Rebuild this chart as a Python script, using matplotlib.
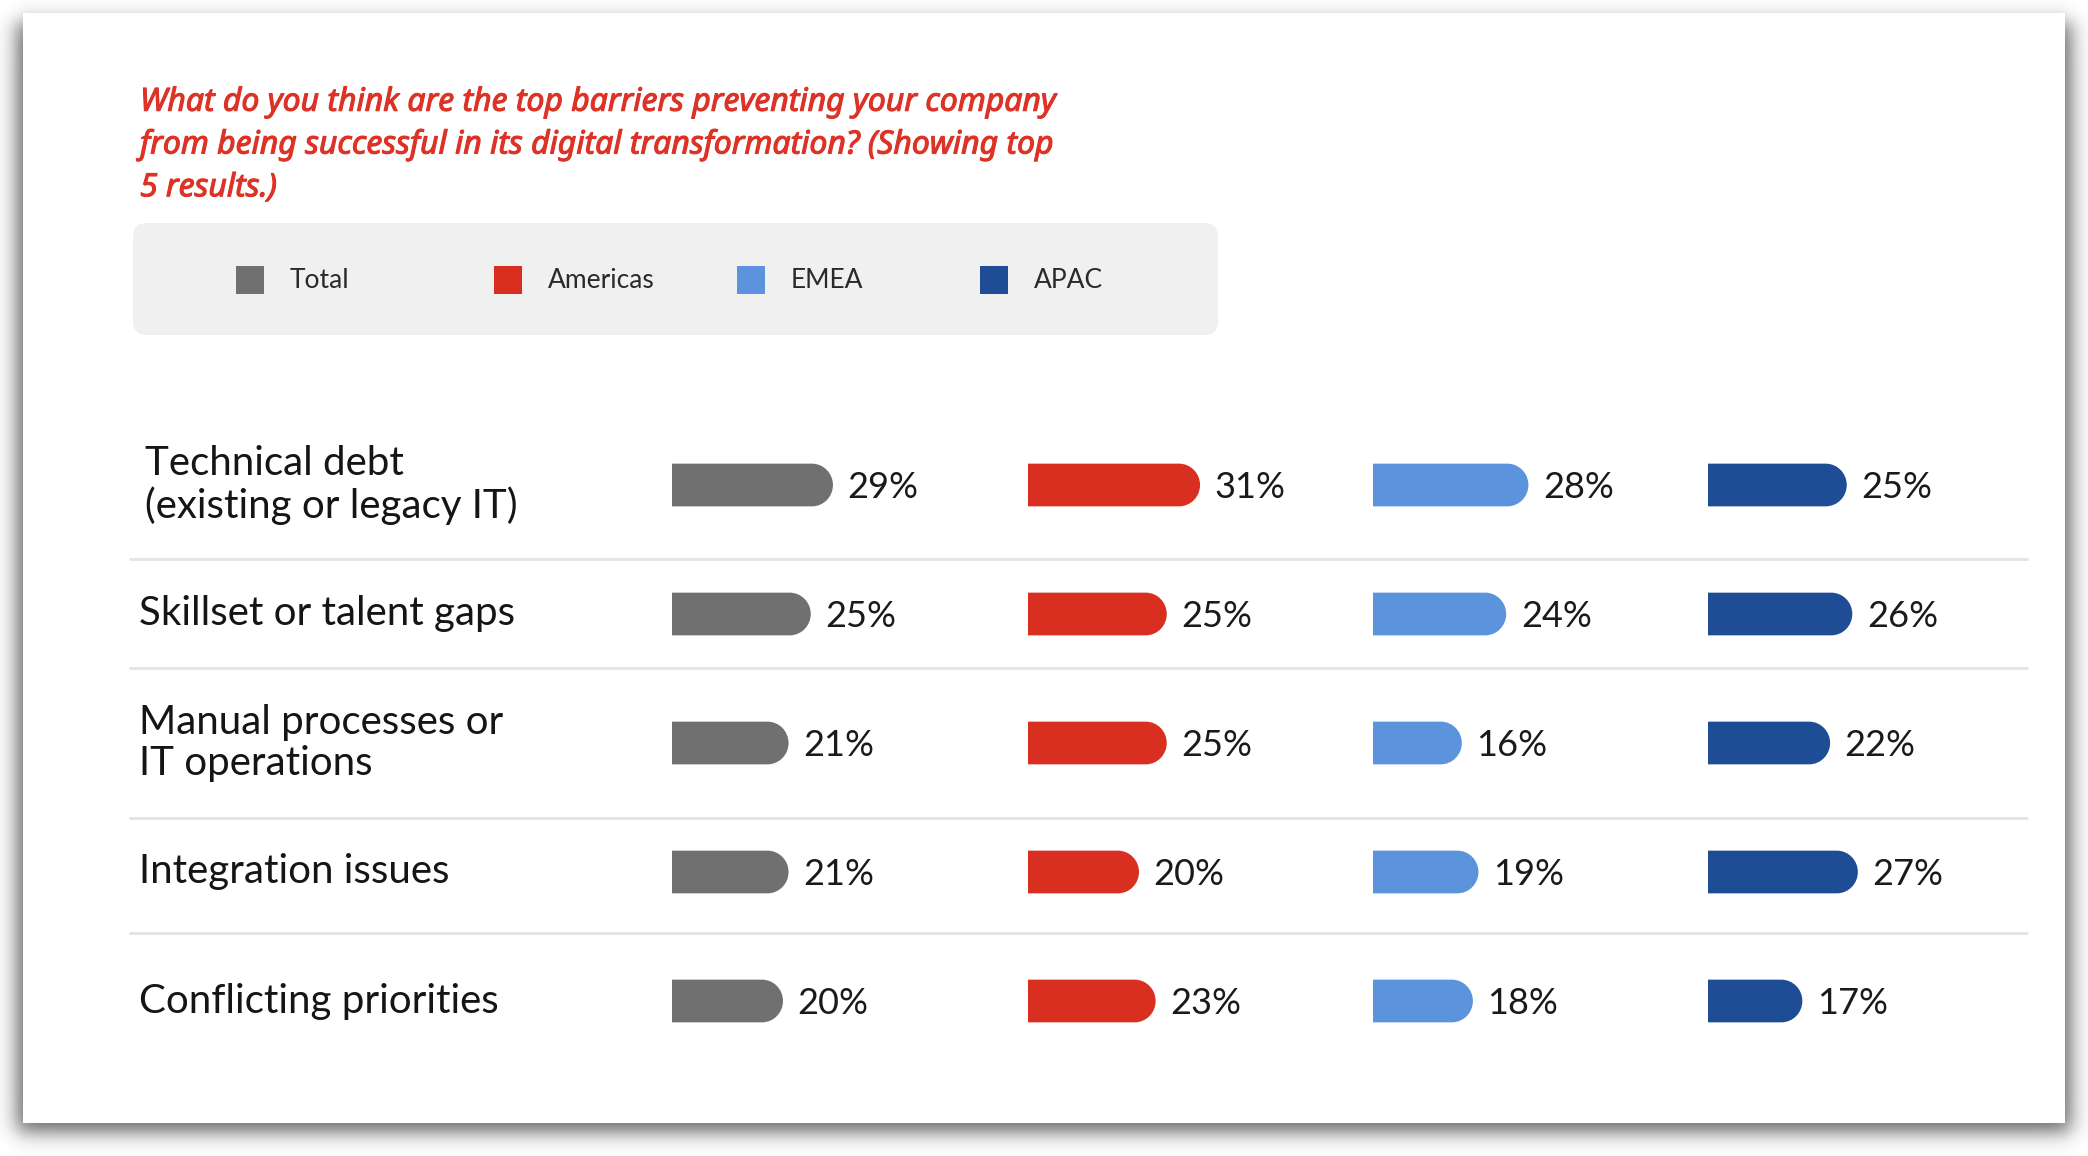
import numpy as np
import matplotlib.pyplot as plt
import matplotlib.patheffects as pe
from matplotlib.patches import Rectangle, FancyBboxPatch, PathPatch
from matplotlib.path import Path

plt.rcParams['font.family'] = ['Lato', 'DejaVu Sans']

# Données
categories = [
    "Technical debt\n(existing or legacy IT)",
    "Skillset or talent gaps",
    "Manual processes or\nIT operations",
    "Integration issues",
    "Conflicting priorities",
]
regions = ["Total", "Americas", "EMEA", "APAC"]
total = [29, 25, 21, 21, 20]
americas = [31, 25, 25, 20, 23]
emea = [28, 24, 16, 19, 18]
apac = [25, 26, 22, 27, 17]
colors = ["#707070", "#d92f21", "#5b93dd", "#1f4d95"]

title = ("What do you think are the top barriers preventing your company\n"
         "from being successful in its digital transformation? (Showing top\n"
         "5 results.)")

W, H = 2088, 1156
fig = plt.figure(figsize=(W / 100, H / 100), dpi=100)
fig.patch.set_facecolor("white")

# fond (coordonnées en pixels)
bg = fig.add_axes([0, 0, 1, 1])
bg.axis("off")

# ombre portée de la carte
xx = np.arange(W) + 0.5
yy = np.arange(H) + 0.5
s = 6.0
fx = 1 / (1 + np.exp(-(xx - 17) / s)) * 1 / (1 + np.exp((xx - 2071) / s))
fy = 1 / (1 + np.exp(-(yy - 22) / s)) * 1 / (1 + np.exp((yy - 1132) / s))
alpha = 0.6 * np.outer(fy, fx)
shadow = np.zeros((H, W, 4))
shadow[..., 3] = alpha
bg.imshow(shadow, extent=(0, W, H, 0), zorder=0, interpolation="bilinear")
bg.set_xlim(0, W)
bg.set_ylim(H, 0)

bg.add_patch(Rectangle((23, 13), 2042, 1110, facecolor="white", edgecolor="none", zorder=1))

# titre
title_red = "#dd3327"
bg.text(140, 145, title, color=title_red, fontsize=23, style="italic",
        family=["Noto Sans", "DejaVu Sans"],
        va="center", ha="left", linespacing=1.39, zorder=3,
        path_effects=[pe.withStroke(linewidth=0.8, foreground=title_red)])

# légende
bg.add_patch(FancyBboxPatch((133, 223), 1085, 112, boxstyle="round,pad=0,rounding_size=14",
                            facecolor="#f0f0f0", edgecolor="none", zorder=2))
leg_x = [250, 508, 751, 994]
for x, name, c in zip(leg_x, regions, colors):
    bg.add_patch(Rectangle((x - 14, 266), 28, 28, facecolor=c, edgecolor="none", zorder=3))
    bg.text(x + 40, 281, name, fontsize=19, color="#2a2a2a", va="center", ha="left", zorder=3)

# séparateurs
bg.hlines([559, 668, 818, 933], 129, 2028, color="#e4e4e4", linewidth=2, zorder=2)

# zone du tableau
row_top, row_step = 485, 129
n = len(categories)
y0 = row_top - row_step / 2
y1 = row_top + row_step * (n - 0.5)
ax_pos = [1 - y1 / H, (y1 - y0) / H]

tab = fig.add_axes([0, ax_pos[0], 1, ax_pos[1]])
tab.set_xlim(0, W)
tab.set_ylim(n - 0.5, -0.5)
tab.axis("off")
for i, cat in enumerate(categories):
    x = 145 if i == 0 else 139
    tab.text(x, i, cat, fontsize=29, color="#151515", va="center", ha="left", linespacing=1.13)

# barres
px_per_pct = 5.55
col_left = [672, 1028, 1373, 1708]
col_w = 340
bar_h = 42.7 / row_step
rx = 21 / px_per_pct
k = 0.5523


def rounded_bar(ax, y, v, color):
    yb, yt = y - bar_h / 2, y + bar_h / 2
    ry = bar_h / 2
    x1 = v - rx
    verts = [(0, yb), (x1, yb),
             (x1 + k * rx, yb), (v, y - k * ry), (v, y),
             (v, y + k * ry), (x1 + k * rx, yt), (x1, yt),
             (0, yt), (0, yb)]
    codes = [Path.MOVETO, Path.LINETO,
             Path.CURVE4, Path.CURVE4, Path.CURVE4,
             Path.CURVE4, Path.CURVE4, Path.CURVE4,
             Path.LINETO, Path.CLOSEPOLY]
    ax.add_patch(PathPatch(Path(verts, codes), facecolor=color, edgecolor="none"))


for vals, c, left in zip([total, americas, emea, apac], colors, col_left):
    ax = fig.add_axes([left / W, ax_pos[0], col_w / W, ax_pos[1]])
    ax.set_xlim(0, col_w / px_per_pct)
    ax.set_ylim(n - 0.5, -0.5)
    ax.axis("off")
    for i, v in enumerate(vals):
        rounded_bar(ax, i, v, c)
        ax.annotate(f"{v}%", xy=(v, i), xytext=(10.5, -1.5), textcoords="offset points",
                    fontsize=26, color="#1a1a1a", va="center", ha="left")

fig.savefig("out.png", dpi=100)
